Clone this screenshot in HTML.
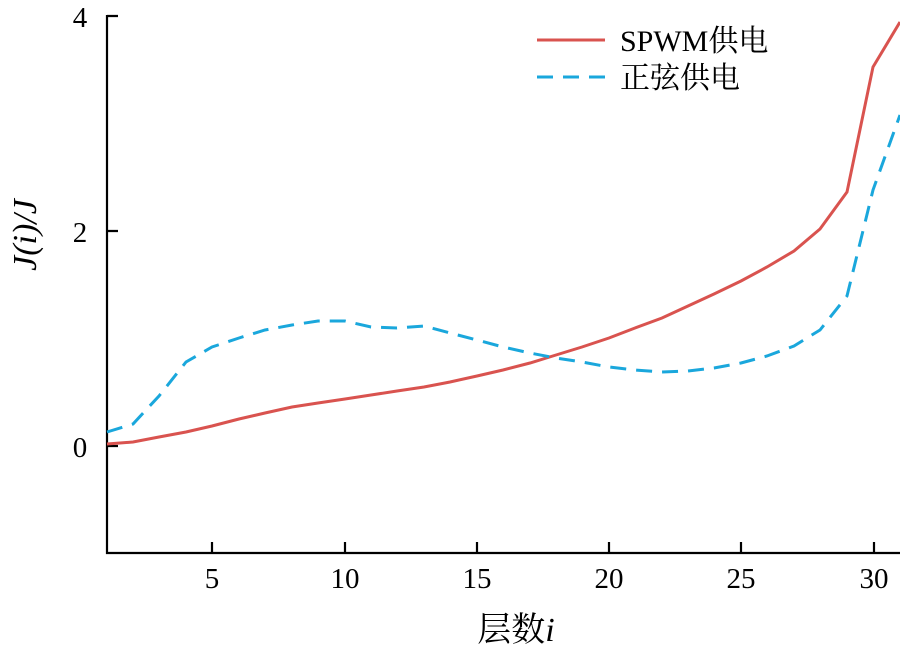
<!DOCTYPE html>
<html><head><meta charset="utf-8"><style>body{margin:0;background:#fff}</style></head><body>
<svg width="900" height="647" viewBox="0 0 900 647" xmlns="http://www.w3.org/2000/svg" font-family="'Liberation Serif','Noto Serif CJK SC',serif">
<g stroke="#000" stroke-width="2.2" fill="none">
<path d="M107,15 V553 H900"/>
<path d="M107,16 H118 M107,231 H118 M107,446 H118"/>
<path d="M212,553 V542 M345,553 V542 M477,553 V542 M609,553 V542 M741,553 V542 M874,553 V542"/>
</g>
<g font-size="29" fill="#000" text-anchor="middle">
<text x="80" y="27">4</text><text x="80" y="242">2</text><text x="80" y="457">0</text>
<text x="212" y="588">5</text><text x="345" y="588">10</text><text x="477" y="588">15</text>
<text x="609" y="588">20</text><text x="741" y="588">25</text><text x="874" y="588">30</text>
<text x="516" y="641" font-size="34">层数<tspan font-style="italic">i</tspan></text>
<text transform="translate(36,235) rotate(-90)" font-style="italic" font-size="34">J(i)/J</text>
</g>
<polyline fill="none" stroke="#d9534f" stroke-width="3" points="107,444 133,442 159,437 186,432 212,426 239,419 265,413 292,407 318,403 345,399 371,395 397,391 424,387 450,382 477,376 503,370 530,363 556,355 582,347 609,338 635,328 662,318 688,306 714,294 741,281 767,267 794,251 820,229 847,192 873,67 900,22"/>
<polyline fill="none" stroke="#1aa7dc" stroke-width="3" stroke-dasharray="16,10" points="107,432 133,424 159,396 186,362 212,347 239,338 265,330 292,325 318,321 345,321 371,327 397,328 424,326 450,333 477,340 503,347 530,353 556,358 582,362 609,367 635,370 662,372 688,371 714,368 741,363 767,356 794,346 820,330 847,296 873,190 900,115"/>
<line x1="537" y1="40" x2="605" y2="40" stroke="#d9534f" stroke-width="3"/>
<line x1="537" y1="77" x2="605" y2="77" stroke="#1aa7dc" stroke-width="3" stroke-dasharray="16,10"/>
<g font-size="30" fill="#000"><text x="620" y="51">SPWM供电</text><text x="620" y="88">正弦供电</text></g>
</svg>
</body></html>
